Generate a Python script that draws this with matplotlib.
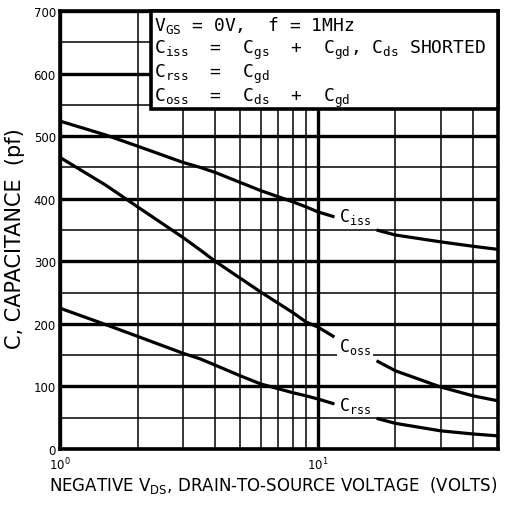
"""Capacitance vs. drain-to-source voltage (datasheet style plot)."""

import matplotlib

matplotlib.use("Agg")
import matplotlib.pyplot as plt
from matplotlib.patches import Rectangle
from matplotlib.ticker import FixedLocator, NullFormatter

# --- data -----------------------------------------------------------------
# each curve is split in two around its in-plot label
vds_lo = [1, 1.5, 2, 3, 3.5, 4, 5, 6, 8, 9, 10, 11.6]
vds_hi = [16.9, 20, 30, 40, 50]

ciss_lo = [524, 502, 484, 458, 450, 442, 426, 413, 395, 387, 379, 371]
ciss_hi = [350, 342, 331, 324, 319]

coss_lo = [466, 422, 387, 338, 318, 300, 273, 251, 218, 203, 195, 179]
coss_hi = [141, 125, 99, 85, 77]

crss_lo = [225, 199, 180, 153, 144, 134, 117, 104, 90, 85, 80, 72]
crss_hi = [49, 41, 29, 24, 21]

curve_labels = ["iss", "oss", "rss"]
label_y = [372, 165, 70]

y_major = [0, 100, 200, 300, 400, 500, 600, 700]
y_minor = [50, 150, 250, 350, 450, 550, 650]
x_major = [1, 10]
x_minor = [2, 3, 4, 5, 6, 7, 8, 9, 20, 30, 40, 50]

note_lines = [
    r"$\mathregular{V_{GS}}$ = 0V,  f = 1MHz",
    r"$\mathregular{C_{iss}}$  =  $\mathregular{C_{gs}}$  +  $\mathregular{C_{gd}}$,"
    r" $\mathregular{C_{ds}}$ SHORTED",
    r"$\mathregular{C_{rss}}$  =  $\mathregular{C_{gd}}$",
    r"$\mathregular{C_{oss}}$  =  $\mathregular{C_{ds}}$  +  $\mathregular{C_{gd}}$",
]

W, H = 505, 506
fig = plt.figure(figsize=(W / 100, H / 100), dpi=100)
ax = fig.add_axes([60 / W, 56 / H, 438 / W, 438 / H])

ax.set_xscale("log")
ax.set_xlim(1, 50)
ax.set_ylim(0, 700)

# grid: heavy at the major values, light in between
ax.xaxis.set_major_locator(FixedLocator(x_major))
ax.xaxis.set_minor_locator(FixedLocator(x_minor))
ax.xaxis.set_minor_formatter(NullFormatter())
ax.yaxis.set_major_locator(FixedLocator(y_major))
ax.yaxis.set_minor_locator(FixedLocator(y_minor))
ax.grid(which="major", color="black", lw=2.4, zorder=0)
ax.grid(which="minor", color="black", lw=1.1, zorder=0)
ax.set_axisbelow(True)
ax.tick_params(which="both", length=0)
ax.tick_params(axis="y", labelsize=8.5, pad=3)
ax.tick_params(axis="x", labelsize=8.5, pad=5)
for s in ax.spines.values():
    s.set_linewidth(2.6)

# curves
for lo, hi in [(ciss_lo, ciss_hi), (coss_lo, coss_hi), (crss_lo, crss_hi)]:
    ax.plot(vds_lo, lo, color="black", lw=2.3, zorder=4, solid_capstyle="butt")
    ax.plot(vds_hi, hi, color="black", lw=2.3, zorder=4, solid_capstyle="butt")

for sub, yv in zip(curve_labels, label_y):
    ax.text(12.1, yv, r"$\mathregular{C_{%s}}$" % sub, fontsize=12,
            family="DejaVu Sans Mono", ha="left", va="center", zorder=5,
            bbox=dict(facecolor="white", edgecolor="none", pad=1.5))

# condition box in the upper right corner
x0 = (151 - 60) / 438
y0 = (450 - 110) / 438
ax.add_patch(Rectangle((x0, y0), 1 - x0, 1 - y0, transform=ax.transAxes,
                       facecolor="white", edgecolor="black", lw=2.6,
                       zorder=3, clip_on=False))
for i, line in enumerate(note_lines):
    ax.text(x0 + 0.006, 1 - (19 + 23.5 * i) / 438, line,
            transform=ax.transAxes, fontsize=13, family="DejaVu Sans Mono",
            ha="left", va="baseline", zorder=6)

fig.text(273 / W, 1 - 486 / H,
         r"NEGATIVE $\mathregular{V_{DS}}$, DRAIN-TO-SOURCE VOLTAGE  (VOLTS)",
         fontsize=12, ha="center", va="center")
fig.text(15.5 / W, 1 - 239 / H, "C, CAPACITANCE  (pf)", fontsize=15,
         rotation=90, ha="center", va="center")

fig.savefig("out.png", dpi=100)
